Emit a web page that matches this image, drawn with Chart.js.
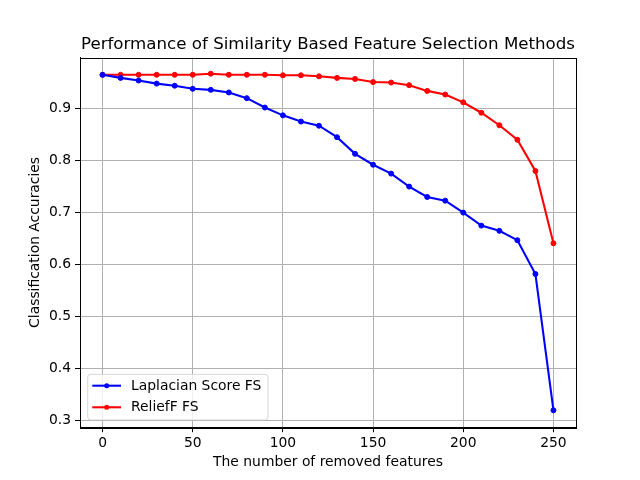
<!DOCTYPE html>
<html>
<head>
<meta charset="utf-8">
<script src="https://cdn.jsdelivr.net/npm/chart.js@4.4.1/dist/chart.umd.min.js"></script>
<style>
html,body{margin:0;padding:0;background:#fff;}
canvas{display:block;}
</style>
</head>
<body>
<canvas id="c" width="640" height="480"></canvas>
<script>
const removedFeatures = [0,10,20,30,40,50,60,70,80,90,100,110,120,130,140,150,160,170,180,190,200,210,220,230,240,250];
const laplacianScore = [0.965,0.959,0.954,0.948,0.944,0.938,0.936,0.931,0.920,0.902,0.887,0.875,0.867,0.845,0.813,0.792,0.775,0.750,0.730,0.723,0.700,0.675,0.665,0.647,0.582,0.320];
const reliefF = [0.965,0.965,0.965,0.965,0.965,0.965,0.967,0.965,0.965,0.965,0.964,0.964,0.962,0.959,0.957,0.951,0.950,0.945,0.934,0.927,0.912,0.892,0.868,0.840,0.780,0.641];
const xTickValues = [0,50,100,150,200,250];
const yTickValues = [0.3,0.4,0.5,0.6,0.7,0.8,0.9];
const seriesNames = ['Laplacian Score FS','ReliefF FS'];
const seriesColors = ['#0000ff','#ff0000'];
const titleText = 'Performance of Similarity Based Feature Selection Methods';
const xTitle = 'The number of removed features';
const yTitle = 'Classification Accuracies';

Chart.defaults.font.family = "'DejaVu Sans', sans-serif";
Chart.defaults.color = '#000';

const toPts = (ys) => ys.map((y, i) => ({x: removedFeatures[i], y: y}));

const framePlugin = {
  id: 'frame',
  afterDatasetsDraw(chart) {
    const {ctx, chartArea: a} = chart;
    ctx.save();
    ctx.strokeStyle = '#000';
    ctx.lineWidth = 1;
    ctx.strokeRect(Math.round(a.left) + 0.5, Math.round(a.top) + 0.5, Math.round(a.right - a.left), Math.round(a.bottom - a.top));
    ctx.restore();
  }
};

const axesTitlePlugin = {
  id: 'axesTitle',
  afterDraw(chart) {
    const {ctx, chartArea: a} = chart;
    ctx.save();
    ctx.font = "16.67px 'DejaVu Sans', sans-serif";
    ctx.fillStyle = '#000';
    ctx.textAlign = 'center';
    ctx.textBaseline = 'alphabetic';
    ctx.fillText(titleText, (a.left + a.right) / 2, a.top - 8.6);
    ctx.restore();
  }
};

const legendPlugin = {
  id: 'innerLegend',
  afterDraw(chart) {
    const {ctx, chartArea: a} = chart;
    ctx.save();
    ctx.font = "13.89px 'DejaVu Sans', sans-serif";
    let maxW = 0;
    chart.data.datasets.forEach(d => { maxW = Math.max(maxW, ctx.measureText(d.label).width); });
    const x0 = a.left + 7.7, y1 = a.bottom - 7.2;
    const h = 45.7;
    const w = 43.3 + maxW + 6.6;
    const y0 = y1 - h;
    const r = 3;
    ctx.beginPath();
    ctx.moveTo(x0 + r, y0);
    ctx.lineTo(x0 + w - r, y0);
    ctx.quadraticCurveTo(x0 + w, y0, x0 + w, y0 + r);
    ctx.lineTo(x0 + w, y1 - r);
    ctx.quadraticCurveTo(x0 + w, y1, x0 + w - r, y1);
    ctx.lineTo(x0 + r, y1);
    ctx.quadraticCurveTo(x0, y1, x0, y1 - r);
    ctx.lineTo(x0, y0 + r);
    ctx.quadraticCurveTo(x0, y0, x0 + r, y0);
    ctx.closePath();
    ctx.fillStyle = 'rgba(255,255,255,0.8)';
    ctx.fill();
    ctx.strokeStyle = 'rgba(204,204,204,0.8)';
    ctx.lineWidth = 1;
    ctx.stroke();
    chart.data.datasets.forEach((d, i) => {
      const yy = y0 + 11.4 + i * 21.6;
      ctx.strokeStyle = d.borderColor;
      ctx.lineWidth = 2.08;
      ctx.beginPath();
      ctx.moveTo(x0 + 4.6, yy);
      ctx.lineTo(x0 + 33.3, yy);
      ctx.stroke();
      ctx.fillStyle = d.borderColor;
      ctx.beginPath();
      ctx.arc(x0 + 19, yy, 2.5, 0, Math.PI * 2);
      ctx.fill();
      ctx.fillStyle = '#000';
      ctx.textAlign = 'left';
      ctx.textBaseline = 'middle';
      ctx.fillText(d.label, x0 + 43.3, yy + 0.5);
    });
    ctx.restore();
  }
};

new Chart(document.getElementById('c'), {
  type: 'line',
  data: {
    datasets: [
      {label: seriesNames[0], data: toPts(laplacianScore), borderColor: seriesColors[0], backgroundColor: seriesColors[0], borderWidth: 2.08, pointRadius: 2.5, pointBorderWidth: 1, pointBackgroundColor: seriesColors[0], pointBorderColor: seriesColors[0], tension: 0, fill: false},
      {label: seriesNames[1], data: toPts(reliefF), borderColor: seriesColors[1], backgroundColor: seriesColors[1], borderWidth: 2.08, pointRadius: 2.5, pointBorderWidth: 1, pointBackgroundColor: seriesColors[1], pointBorderColor: seriesColors[1], tension: 0, fill: false}
    ]
  },
  options: {
    responsive: false,
    animation: false,
    layout: {padding: {left: 0, right: 64, top: 57.6, bottom: 0}},
    plugins: {
      legend: {display: false},
      tooltip: {enabled: false},
      title: {display: false}
    },
    scales: {
      x: {
        type: 'linear',
        min: -12.5, max: 262.5,
        afterBuildTicks: s => { s.ticks = xTickValues.map(v => ({value: v})); },
        afterFit: s => { s.height = 52.8; },
        ticks: {font: {size: 13.89}, color: '#000', padding: 3, maxRotation: 0, autoSkip: false, callback: v => String(v)},
        grid: {color: '#b0b0b0', lineWidth: 1, tickColor: '#000', tickLength: 5, drawTicks: true},
        border: {display: true, color: '#000', width: 1},
        title: {display: true, text: xTitle, font: {size: 13.89}, color: '#000', padding: {top: 0, bottom: 9}}
      },
      y: {
        type: 'linear',
        min: 0.2875, max: 0.998,
        afterBuildTicks: s => { s.ticks = yTickValues.map(v => ({value: v})); },
        afterFit: s => { s.width = 80; },
        ticks: {font: {size: 13.89}, color: '#000', padding: 4, autoSkip: false, callback: v => v.toFixed(1)},
        grid: {color: '#b0b0b0', lineWidth: 1, tickColor: '#000', tickLength: 5, drawTicks: true},
        border: {display: true, color: '#000', width: 1},
        title: {display: true, text: yTitle, font: {size: 13.89}, color: '#000', padding: {top: 27, bottom: 0}}
      }
    }
  },
  plugins: [framePlugin, axesTitlePlugin, legendPlugin]
});
</script>
</body>
</html>
